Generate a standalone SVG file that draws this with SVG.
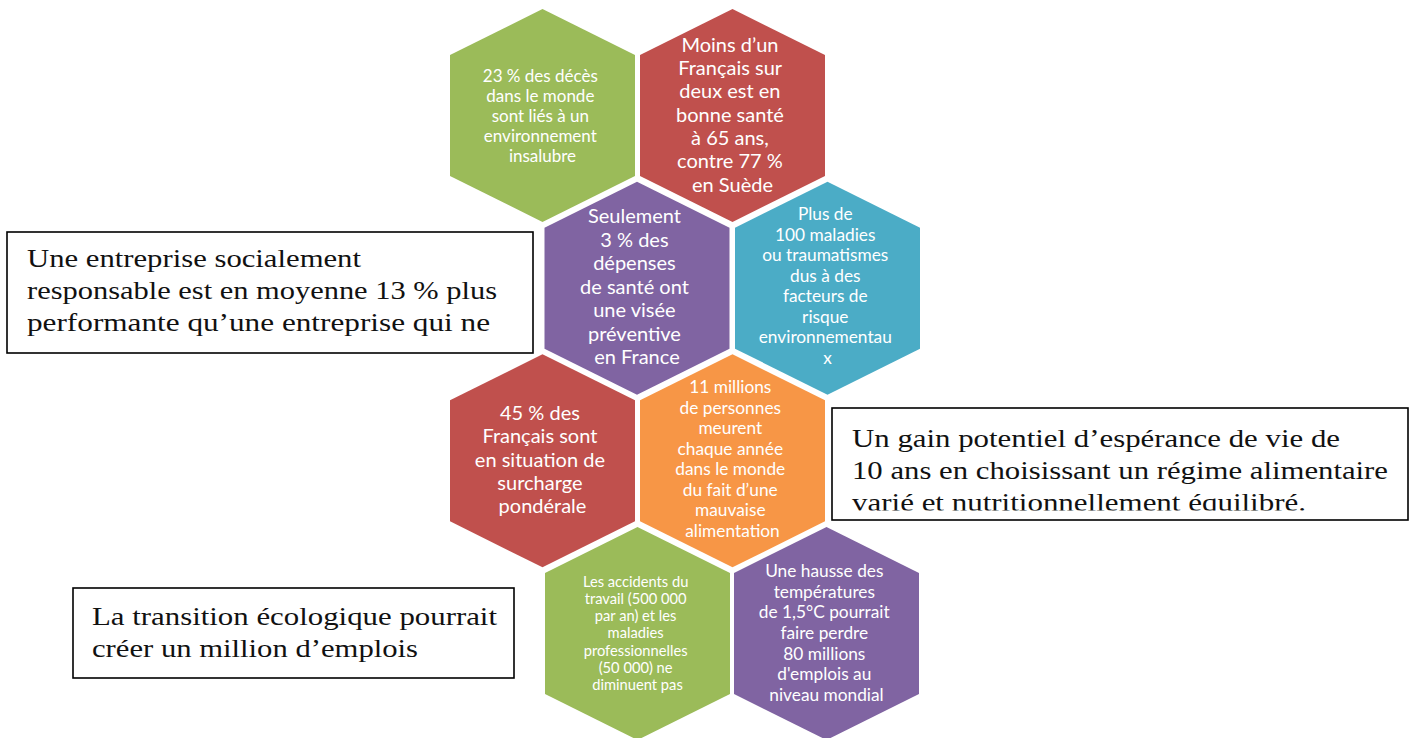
<svg xmlns="http://www.w3.org/2000/svg" xmlns:xlink="http://www.w3.org/1999/xlink" width="1414" height="738" viewBox="0 0 1414 738">
<style>
  .hx-green{fill:#9BBB59}
  .hx-red{fill:#C0504D}
  .hx-purple{fill:#8064A2}
  .hx-cyan{fill:#4BACC6}
  .hx-orange{fill:#F79646}
  .ht{font-family:Lato,"Open Sans","Liberation Sans",sans-serif;fill:#FFFFFF;text-anchor:middle}
  .box{fill:#FFFFFF;stroke:#000000;stroke-width:1.6}
  .bt{font-family:"Liberation Serif","Times New Roman",serif;font-size:26px;fill:#111111}
</style>
<defs>
  <polygon id="hex" points="0,-106.5 92.5,-60.5 92.5,60.5 0,106.5 -92.5,60.5 -92.5,-60.5"/>
  <clipPath id="clipBox2"><rect x="832" y="408" width="576" height="102.5"/></clipPath>
</defs>
<rect width="1414" height="738" fill="#FFFFFF"/>
<g id="connectors"/>

<g id="hex1">
  <use href="#hex" xlink:href="#hex" x="542.5" y="115.5" class="hx-green"/>
  <text class="ht" style="font-size:17px">
    <tspan x="542.5" y="82">23 % des décès</tspan>
    <tspan x="542.5" y="102">dans le monde</tspan>
    <tspan x="542.5" y="122">sont liés à un</tspan>
    <tspan x="542.5" y="142">environnement</tspan>
    <tspan x="542.5" y="162">insalubre</tspan>
  </text>
</g>

<g id="hex2">
  <use href="#hex" xlink:href="#hex" x="732.5" y="115.5" class="hx-red"/>
  <text class="ht" style="font-size:20px">
    <tspan x="732.5" y="51.7">Moins d’un</tspan>
    <tspan x="732.5" y="75">Français sur</tspan>
    <tspan x="732.5" y="98.3">deux est en</tspan>
    <tspan x="732.5" y="121.7">bonne santé</tspan>
    <tspan x="732.5" y="145">à 65 ans,</tspan>
    <tspan x="732.5" y="168.3">contre 77 %</tspan>
    <tspan x="732.5" y="191.7">en Suède</tspan>
  </text>
</g>

<g id="hex3">
  <use href="#hex" xlink:href="#hex" x="637" y="288.2" class="hx-purple"/>
  <text class="ht" style="font-size:20px">
    <tspan x="637" y="223.3">Seulement</tspan>
    <tspan x="637" y="246.8">3 % des</tspan>
    <tspan x="637" y="270.3">dépenses</tspan>
    <tspan x="637" y="293.8">de santé ont</tspan>
    <tspan x="637" y="317.3">une visée</tspan>
    <tspan x="637" y="340.8">préventive</tspan>
    <tspan x="637" y="364.3">en France</tspan>
  </text>
</g>

<g id="hex4">
  <use href="#hex" xlink:href="#hex" x="827.5" y="288.2" class="hx-cyan"/>
  <text class="ht" style="font-size:17.3px">
    <tspan x="827.5" y="220">Plus de</tspan>
    <tspan x="827.5" y="240.5">100 maladies</tspan>
    <tspan x="827.5" y="261">ou traumatismes</tspan>
    <tspan x="827.5" y="281.5">dus à des</tspan>
    <tspan x="827.5" y="302">facteurs de</tspan>
    <tspan x="827.5" y="322.5">risque</tspan>
    <tspan x="827.5" y="343">environnementau</tspan>
    <tspan x="827.5" y="363.5">x</tspan>
  </text>
</g>

<g id="hex5">
  <use href="#hex" xlink:href="#hex" x="542.5" y="460.8" class="hx-red"/>
  <text class="ht" style="font-size:20px">
    <tspan x="542.5" y="420">45 % des</tspan>
    <tspan x="542.5" y="443.3">Français sont</tspan>
    <tspan x="542.5" y="466.7">en situation de</tspan>
    <tspan x="542.5" y="490">surcharge</tspan>
    <tspan x="542.5" y="513.3">pondérale</tspan>
  </text>
</g>

<g id="hex6">
  <use href="#hex" xlink:href="#hex" x="732.5" y="460.8" class="hx-orange"/>
  <text class="ht" style="font-size:17.3px">
    <tspan x="732.5" y="393.3">11 millions</tspan>
    <tspan x="732.5" y="413.8">de personnes</tspan>
    <tspan x="732.5" y="434.3">meurent</tspan>
    <tspan x="732.5" y="454.8">chaque année</tspan>
    <tspan x="732.5" y="475.3">dans le monde</tspan>
    <tspan x="732.5" y="495.8">du fait d’une</tspan>
    <tspan x="732.5" y="516.3">mauvaise</tspan>
    <tspan x="732.5" y="536.8">alimentation</tspan>
  </text>
</g>

<g id="hex7">
  <use href="#hex" xlink:href="#hex" x="637.5" y="633.5" class="hx-green"/>
  <text class="ht" style="font-size:14.7px">
    <tspan x="637.5" y="586.7">Les accidents du</tspan>
    <tspan x="637.5" y="603.9">travail (500 000</tspan>
    <tspan x="637.5" y="621.1">par an) et les</tspan>
    <tspan x="637.5" y="638.3">maladies</tspan>
    <tspan x="637.5" y="655.5">professionnelles</tspan>
    <tspan x="637.5" y="672.7">(50 000) ne</tspan>
    <tspan x="637.5" y="690">diminuent pas</tspan>
  </text>
</g>

<g id="hex8">
  <use href="#hex" xlink:href="#hex" x="826.5" y="633.5" class="hx-purple"/>
  <text class="ht" style="font-size:17.3px">
    <tspan x="826.5" y="577.3">Une hausse des</tspan>
    <tspan x="826.5" y="597.9">températures</tspan>
    <tspan x="826.5" y="618.4">de 1,5°C pourrait</tspan>
    <tspan x="826.5" y="639">faire perdre</tspan>
    <tspan x="826.5" y="659.6">80 millions</tspan>
    <tspan x="826.5" y="680.1">d'emplois au</tspan>
    <tspan x="826.5" y="700.7">niveau mondial</tspan>
  </text>
</g>

<g id="box1">
  <rect class="box" x="7" y="232" width="526" height="121"/>
  <text class="bt" x="27" y="267" textLength="334" lengthAdjust="spacingAndGlyphs">Une entreprise socialement</text>
  <text class="bt" x="27" y="299" textLength="470" lengthAdjust="spacingAndGlyphs">responsable est en moyenne 13 % plus</text>
  <text class="bt" x="27" y="331" textLength="463" lengthAdjust="spacingAndGlyphs">performante qu’une entreprise qui ne</text>
</g>

<g id="box2">
  <rect class="box" x="832" y="408" width="576" height="112"/>
  <g clip-path="url(#clipBox2)">
    <text class="bt" x="852" y="447" textLength="488" lengthAdjust="spacingAndGlyphs">Un gain potentiel d’espérance de vie de</text>
    <text class="bt" x="852" y="479" textLength="536" lengthAdjust="spacingAndGlyphs">10 ans en choisissant un régime alimentaire</text>
    <text class="bt" x="852" y="511" textLength="454" lengthAdjust="spacingAndGlyphs">varié et nutritionnellement équilibré.</text>
  </g>
</g>

<g id="box3">
  <rect class="box" x="73" y="588" width="441" height="90"/>
  <text class="bt" x="92" y="625" textLength="405" lengthAdjust="spacingAndGlyphs">La transition écologique pourrait</text>
  <text class="bt" x="92" y="657" textLength="326" lengthAdjust="spacingAndGlyphs">créer un million d’emplois</text>
</g>
</svg>
